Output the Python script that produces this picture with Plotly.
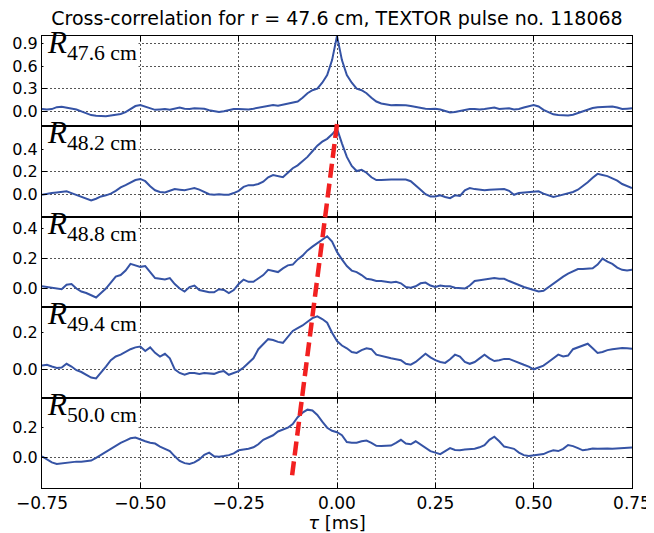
import plotly.graph_objects as go
from plotly.subplots import make_subplots

# time lag grid (ms), step 0.0125
tau = [round(-0.75 + 0.0125 * k, 4) for k in range(121)]

r_labels = ["47.6", "48.2", "48.8", "49.4", "50.0"]

R_476 = [0.03, 0.025, 0.03, 0.055, 0.06, 0.05, 0.04, 0.025, 0.0, -0.025,
         -0.05, -0.06, -0.065, -0.065, -0.055, -0.045, -0.035, -0.01, 0.03, 0.07,
         0.085, 0.065, 0.04, 0.02, 0.025, 0.03, 0.02, 0.04, 0.05, 0.035,
         0.03, 0.04, 0.04, 0.035, 0.015, 0.0, -0.01, 0.0, 0.02, 0.03,
         0.03, 0.025, 0.025, 0.035, 0.05, 0.06, 0.075, 0.085, 0.075, 0.09,
         0.1, 0.11, 0.13, 0.18, 0.24, 0.28, 0.3, 0.38, 0.48, 0.68,
         1.0, 0.68, 0.48, 0.38, 0.3, 0.28, 0.24, 0.18, 0.13, 0.105,
         0.09, 0.08, 0.085, 0.085, 0.08, 0.07, 0.055, 0.04, 0.035, 0.03,
         0.035, 0.025, 0.01, -0.015, -0.01, 0.0, 0.02, 0.03, 0.03, 0.025,
         0.03, 0.045, 0.05, 0.03, 0.035, 0.04, 0.025, 0.03, 0.05, 0.065,
         0.085, 0.065, 0.02, -0.01, -0.04, -0.05, -0.055, -0.055, -0.045, -0.02,
         0.005, 0.03, 0.045, 0.055, 0.06, 0.065, 0.065, 0.05, 0.03, 0.035,
         0.04]

R_482 = [-0.005, 0.005, 0.01, 0.015, 0.02, 0.025, 0.01, -0.005, -0.02, -0.04,
         -0.055, -0.04, -0.02, -0.01, 0.005, 0.03, 0.06, 0.08, 0.1, 0.125,
         0.135, 0.115, 0.07, 0.035, 0.02, 0.015, 0.03, 0.045, 0.04, 0.035,
         0.045, 0.055, 0.04, 0.02, 0.0, -0.005, 0.0, -0.005, -0.005, 0.01,
         0.03, 0.065, 0.08, 0.08, 0.09, 0.11, 0.15, 0.17, 0.16, 0.15,
         0.19, 0.23, 0.255, 0.29, 0.33, 0.38, 0.43, 0.465, 0.49, 0.53,
         0.58, 0.45, 0.33, 0.25, 0.205, 0.215, 0.19, 0.15, 0.125, 0.125,
         0.13, 0.13, 0.13, 0.13, 0.13, 0.115, 0.08, 0.04, 0.0, -0.02,
         -0.02, -0.01, -0.025, -0.035, -0.01, -0.015, 0.035, 0.055, 0.045, 0.04,
         0.035, 0.04, 0.04, 0.04, 0.045, 0.03, -0.005, 0.01, 0.015, 0.02,
         0.025, 0.025, 0.005, -0.01, -0.025, -0.015, -0.005, 0.01, 0.02, 0.04,
         0.07, 0.105, 0.145, 0.18, 0.17, 0.16, 0.14, 0.12, 0.09, 0.07,
         0.055]

R_488 = [0.015, 0.01, 0.01, 0.0, -0.005, 0.025, 0.03, 0.0, -0.02, -0.03,
         -0.045, -0.06, -0.03, 0.0, 0.04, 0.08, 0.09, 0.12, 0.165, 0.155,
         0.145, 0.15, 0.11, 0.07, 0.065, 0.06, 0.07, 0.03, 0.0, -0.02,
         0.01, 0.02, -0.01, -0.02, -0.025, -0.025, -0.005, -0.01, -0.03, -0.01,
         0.03, 0.06, 0.045, 0.045, 0.065, 0.09, 0.125, 0.12, 0.11, 0.135,
         0.155, 0.16, 0.195, 0.22, 0.255, 0.28, 0.305, 0.33, 0.35, 0.315,
         0.245, 0.195, 0.15, 0.12, 0.11, 0.09, 0.065, 0.06, 0.05, 0.05,
         0.045, 0.04, 0.045, 0.035, 0.01, 0.005, 0.015, 0.035, 0.04, 0.02,
         0.01, 0.02, 0.015, 0.015, 0.005, 0.0, 0.0, 0.02, 0.05, 0.055,
         0.06, 0.065, 0.07, 0.065, 0.065, 0.05, 0.035, 0.02, 0.01, 0.0,
         -0.01, -0.02, -0.015, 0.01, 0.03, 0.06, 0.08, 0.1, 0.115, 0.13,
         0.13, 0.135, 0.135, 0.16, 0.2, 0.18, 0.165, 0.14, 0.125, 0.12,
         0.125]

R_494 = [0.02, 0.025, 0.015, 0.007, 0.01, 0.03, 0.015, -0.005, -0.015, -0.03,
         -0.045, -0.05, -0.02, 0.015, 0.05, 0.07, 0.08, 0.095, 0.11, 0.12,
         0.125, 0.1, 0.12, 0.09, 0.07, 0.085, 0.06, 0.0, -0.02, -0.03,
         -0.02, -0.02, -0.025, -0.02, -0.022, -0.025, -0.015, -0.01, -0.03, -0.02,
         -0.01, 0.01, 0.035, 0.06, 0.11, 0.14, 0.165, 0.16, 0.15, 0.145,
         0.175, 0.21, 0.225, 0.24, 0.26, 0.28, 0.29, 0.275, 0.255, 0.2,
         0.155, 0.13, 0.115, 0.095, 0.09, 0.105, 0.115, 0.11, 0.08, 0.072,
         0.068, 0.06, 0.055, 0.05, 0.03, 0.025, 0.04, 0.065, 0.085, 0.065,
         0.05, 0.04, 0.035, 0.055, 0.08, 0.07, 0.04, 0.03, 0.04, 0.06,
         0.08, 0.06, 0.045, 0.05, 0.057, 0.057, 0.045, 0.035, 0.025, 0.015,
         0.0, 0.01, 0.02, 0.04, 0.06, 0.08, 0.07, 0.075, 0.11, 0.12,
         0.13, 0.14, 0.115, 0.09, 0.095, 0.105, 0.11, 0.115, 0.117, 0.115,
         0.112]

R_500 = [0.01, -0.01, -0.03, -0.04, -0.035, -0.03, -0.025, -0.025, -0.025, -0.022,
         -0.018, 0.0, 0.02, 0.04, 0.065, 0.08, 0.1, 0.115, 0.13, 0.135,
         0.12, 0.11, 0.1, 0.095, 0.075, 0.06, 0.045, 0.01, -0.02, -0.035,
         -0.04, -0.03, -0.01, 0.02, 0.035, 0.01, 0.008, 0.012, 0.018, 0.03,
         0.05, 0.055, 0.06, 0.07, 0.09, 0.12, 0.135, 0.15, 0.175, 0.19,
         0.2, 0.225, 0.27, 0.3, 0.32, 0.315, 0.285, 0.24, 0.2, 0.18,
         0.17, 0.15, 0.105, 0.1, 0.1, 0.11, 0.115, 0.1, 0.08, 0.078,
         0.078, 0.082, 0.1, 0.12, 0.095, 0.09, 0.11, 0.09, 0.065, 0.045,
         0.035, 0.025, 0.045, 0.065, 0.052, 0.05, 0.055, 0.06, 0.06, 0.07,
         0.085, 0.12, 0.14, 0.11, 0.075, 0.068, 0.06, 0.035, 0.018, 0.012,
         0.015, 0.018, 0.025, 0.04, 0.05, 0.045, 0.06, 0.085, 0.078, 0.065,
         0.05, 0.055, 0.062, 0.06, 0.062, 0.062, 0.06, 0.063, 0.062, 0.065,
         0.069]

series = [R_476, R_482, R_488, R_494, R_500]
y_ranges = [[-0.2, 1.0], [-0.2, 0.6], [-0.125, 0.48], [-0.155, 0.34], [-0.2, 0.4]]
y_ticks = [[0.0, 0.3, 0.6, 0.9], [0.0, 0.2, 0.4], [0.0, 0.2, 0.4], [0.0, 0.2], [0.0, 0.2]]
x_ticks = [-0.75, -0.5, -0.25, 0.0, 0.25, 0.5, 0.75]

# red dashed guide line (tau in ms, vertical position in figure paper units)
guide_tau = [0.0, -0.115]
guide_paper_y = [0.805, 0.022]

fig = make_subplots(rows=5, cols=1, shared_xaxes=True, vertical_spacing=0)

for i, vals in enumerate(series):
    fig.add_trace(go.Scatter(x=tau, y=vals, mode="lines",
                             line=dict(color="#3553a5", width=2),
                             showlegend=False), row=i + 1, col=1)
    fig.update_yaxes(range=y_ranges[i], tickvals=y_ticks[i], tickformat=".1f",
                     row=i + 1, col=1)
    xd = "x domain" if i == 0 else f"x{i+1} domain"
    yd = "y domain" if i == 0 else f"y{i+1} domain"
    # white box behind the label (hides grid lines)
    fig.add_annotation(xref=xd, yref=yd, x=0.0, y=1.0, xanchor="left", yanchor="top",
                       xshift=1, yshift=-1, text=" ", showarrow=False,
                       width=94, height=34, bgcolor="white", borderpad=0,
                       font=dict(size=10))
    fig.add_annotation(xref=xd, yref=yd, x=0.0, y=1.0, xanchor="left", yanchor="top",
                       xshift=3, yshift=13,
                       text=f"<i>R</i><sub>{r_labels[i]} cm</sub>", showarrow=False,
                       font=dict(family="Liberation Serif", size=31, color="black"),
                       align="left")

axis_common = dict(showline=True, linecolor="black", linewidth=1, mirror="allticks",
                   ticks="inside", ticklen=5, tickcolor="black", tickwidth=1,
                   showgrid=True, gridcolor="#555555", griddash="2px,2px", gridwidth=1,
                   zeroline=False, automargin=False)

fig.update_xaxes(range=[-0.75, 0.75], tickvals=x_ticks, tickformat=".2f",
                 tickfont=dict(family="DejaVu Sans", size=17, color="black"), **axis_common)
fig.update_yaxes(tickfont=dict(family="DejaVu Sans", size=16, color="black"), **axis_common)
fig.update_xaxes(title=dict(text="<i>τ</i> [ms]", font=dict(family="DejaVu Sans", size=18),
                            standoff=1), row=5, col=1)

fig.add_shape(type="line", xref="x", yref="paper",
              x0=guide_tau[0], y0=guide_paper_y[0], x1=guide_tau[1], y1=guide_paper_y[1],
              line=dict(color="#f22020", width=4.5, dash="14px,6px"), layer="above")

# the page places the figure 8 px from the top-left corner of the window
fig.update_layout(
    width=646, height=525,
    margin=dict(l=34, r=22, t=28, b=45, autoexpand=False),
    paper_bgcolor="white", plot_bgcolor="white",
    title=dict(text="Cross-correlation for r = 47.6 cm, TEXTOR pulse no. 118068",
               x=0.5, xref="paper", y=1 - 10 / 525, yref="container", yanchor="middle",
               font=dict(family="DejaVu Sans", size=19, color="black")),
    font=dict(family="DejaVu Sans", color="black"),
)

fig.write_html("out.html")
